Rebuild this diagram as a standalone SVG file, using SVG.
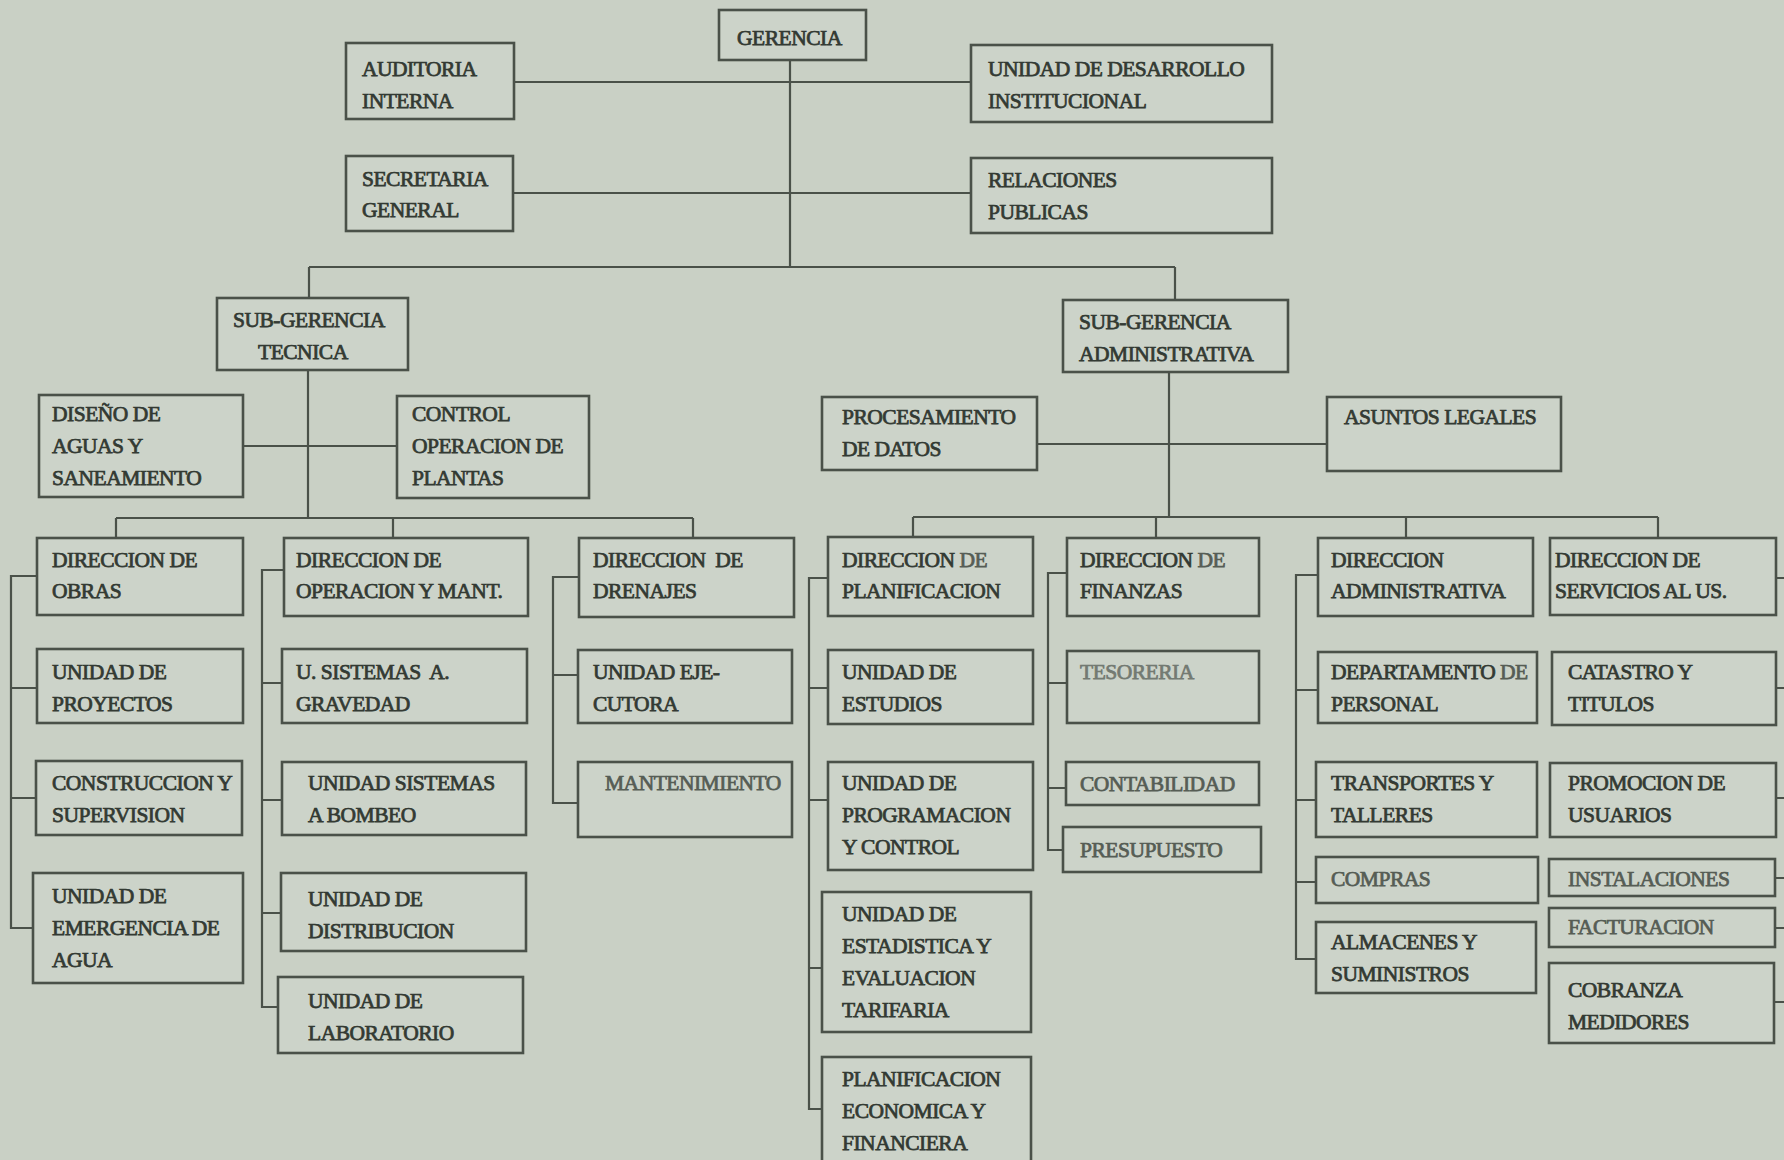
<svg xmlns="http://www.w3.org/2000/svg" width="1784" height="1160" viewBox="0 0 1784 1160">
  <style>
    .bg { fill: #c9d0c5; }
    .box { fill: #ccd3c9; stroke: #4a5149; stroke-width: 2.6; }
    .ln { fill: none; stroke: #4a5149; stroke-width: 2.2; }
    .t { font-family: "Liberation Serif", "Times New Roman", serif; font-size: 21.5px; fill: #333a33; stroke: #333a33; stroke-width: 0.75; letter-spacing: -0.5px; }
    .faint { fill: #737a72; stroke: #737a72; }
    .mid { fill: #565d55; stroke: #565d55; }
  </style>

  <rect class="bg" x="0" y="0" width="1784" height="1160"/>

  <!-- connecting lines -->
  <g id="connectors">
    <!-- management level -->
    <path class="ln" d="M790,60 V267"/>
    <path class="ln" d="M514,82 H971"/>
    <path class="ln" d="M513,193 H971"/>
    <path class="ln" d="M309,267 H1175 M309,267 V298 M1175,267 V300"/>

    <!-- technical branch -->
    <path class="ln" d="M308,370 V518"/>
    <path class="ln" d="M243,446 H397"/>
    <path class="ln" d="M116,518 H693 M116,518 V538 M393,518 V538 M693,518 V538"/>
    <path class="ln" d="M37,576 H11 V928 H33 M11,688 H37 M11,798 H36"/>
    <path class="ln" d="M284,570 H262 V1007 H278 M262,683 H282 M262,800 H282 M262,913 H281"/>
    <path class="ln" d="M579,577 H553 V803 H578 M553,675 H578"/>

    <!-- administrative branch -->
    <path class="ln" d="M1169,372 V517"/>
    <path class="ln" d="M1037,444 H1327"/>
    <path class="ln" d="M913,517 H1658 M913,517 V537 M1156,517 V538 M1406,517 V538 M1658,517 V538"/>
    <path class="ln" d="M828,578 H809 V1109 H822 M809,688 H828 M809,800 H828 M809,968 H822"/>
    <path class="ln" d="M1067,573 H1048 V850 H1063 M1048,683 H1067 M1048,788 H1066"/>
    <path class="ln" d="M1318,575 H1296 V959 H1316 M1296,690 H1318 M1296,800 H1316 M1296,882 H1316"/>
    <path class="ln" d="M1776,578 H1784 M1776,688 H1784 M1776,798 H1784 M1775,878 H1784 M1775,928 H1784 M1774,1002 H1784"/>
  </g>

  <!-- management -->
  <g id="gerencia">
    <rect class="box" x="719" y="10" width="147" height="50"/>
    <text class="t" x="737" y="45">GERENCIA</text>
  </g>
  <g id="auditoria-interna">
    <rect class="box" x="346" y="43" width="168" height="76"/>
    <text class="t" x="362" y="76">AUDITORIA<tspan x="362" y="108">INTERNA</tspan></text>
  </g>
  <g id="desarrollo-institucional">
    <rect class="box" x="971" y="45" width="301" height="77"/>
    <text class="t" x="988" y="76">UNIDAD DE DESARROLLO<tspan x="988" y="108">INSTITUCIONAL</tspan></text>
  </g>
  <g id="secretaria-general">
    <rect class="box" x="346" y="156" width="167" height="75"/>
    <text class="t" x="362" y="186">SECRETARIA<tspan x="362" y="217">GENERAL</tspan></text>
  </g>
  <g id="relaciones-publicas">
    <rect class="box" x="971" y="158" width="301" height="75"/>
    <text class="t" x="988" y="187">RELACIONES<tspan x="988" y="219">PUBLICAS</tspan></text>
  </g>

  <!-- technical sub-management -->
  <g id="sub-gerencia-tecnica">
    <rect class="box" x="217" y="298" width="191" height="72"/>
    <text class="t" x="233" y="327">SUB-GERENCIA<tspan x="258" y="359">TECNICA</tspan></text>
  </g>
  <g id="diseno-aguas">
    <rect class="box" x="39" y="395" width="204" height="102"/>
    <text class="t" x="52" y="421">DISEÑO DE<tspan x="52" y="453">AGUAS Y</tspan><tspan x="52" y="485">SANEAMIENTO</tspan></text>
  </g>
  <g id="control-plantas">
    <rect class="box" x="397" y="396" width="192" height="102"/>
    <text class="t" x="412" y="421">CONTROL<tspan x="412" y="453">OPERACION DE</tspan><tspan x="412" y="485">PLANTAS</tspan></text>
  </g>

  <g id="direccion-obras">
    <rect class="box" x="37" y="538" width="206" height="77"/>
    <text class="t" x="52" y="567">DIRECCION DE<tspan x="52" y="598">OBRAS</tspan></text>
  </g>
  <g id="unidad-proyectos">
    <rect class="box" x="37" y="649" width="206" height="74"/>
    <text class="t" x="52" y="679">UNIDAD DE<tspan x="52" y="711">PROYECTOS</tspan></text>
  </g>
  <g id="construccion-supervision">
    <rect class="box" x="36" y="761" width="206" height="74"/>
    <text class="t" x="52" y="790">CONSTRUCCION Y<tspan x="52" y="822">SUPERVISION</tspan></text>
  </g>
  <g id="emergencia-agua">
    <rect class="box" x="33" y="873" width="210" height="110"/>
    <text class="t" x="52" y="903">UNIDAD DE<tspan x="52" y="935">EMERGENCIA DE</tspan><tspan x="52" y="967">AGUA</tspan></text>
  </g>

  <g id="direccion-operacion">
    <rect class="box" x="284" y="538" width="244" height="78"/>
    <text class="t" x="296" y="567">DIRECCION DE<tspan x="296" y="598">OPERACION Y MANT.</tspan></text>
  </g>
  <g id="sistemas-gravedad">
    <rect class="box" x="282" y="649" width="245" height="74"/>
    <text class="t" x="296" y="679" xml:space="preserve">U. SISTEMAS  A.<tspan x="296" y="711">GRAVEDAD</tspan></text>
  </g>
  <g id="sistemas-bombeo">
    <rect class="box" x="282" y="762" width="244" height="73"/>
    <text class="t" x="308" y="790">UNIDAD SISTEMAS<tspan x="308" y="822">A BOMBEO</tspan></text>
  </g>
  <g id="unidad-distribucion">
    <rect class="box" x="281" y="873" width="245" height="78"/>
    <text class="t" x="308" y="906">UNIDAD DE<tspan x="308" y="938">DISTRIBUCION</tspan></text>
  </g>
  <g id="unidad-laboratorio">
    <rect class="box" x="278" y="977" width="245" height="76"/>
    <text class="t" x="308" y="1008">UNIDAD DE<tspan x="308" y="1040">LABORATORIO</tspan></text>
  </g>

  <g id="direccion-drenajes">
    <rect class="box" x="579" y="538" width="215" height="79"/>
    <text class="t" x="593" y="567" xml:space="preserve">DIRECCION  DE<tspan x="593" y="598">DRENAJES</tspan></text>
  </g>
  <g id="unidad-ejecutora">
    <rect class="box" x="578" y="650" width="214" height="73"/>
    <text class="t" x="593" y="679">UNIDAD EJE-<tspan x="593" y="711">CUTORA</tspan></text>
  </g>
  <g id="mantenimiento">
    <rect class="box" x="578" y="762" width="214" height="75"/>
    <text class="t mid" x="605" y="790">MANTENIMIENTO</text>
  </g>

  <!-- administrative sub-management -->
  <g id="sub-gerencia-administrativa">
    <rect class="box" x="1063" y="300" width="225" height="72"/>
    <text class="t" x="1079" y="329">SUB-GERENCIA<tspan x="1079" y="361">ADMINISTRATIVA</tspan></text>
  </g>
  <g id="procesamiento-datos">
    <rect class="box" x="822" y="397" width="215" height="73"/>
    <text class="t" x="842" y="424">PROCESAMIENTO<tspan x="842" y="456">DE DATOS</tspan></text>
  </g>
  <g id="asuntos-legales">
    <rect class="box" x="1327" y="397" width="234" height="74"/>
    <text class="t" x="1344" y="424">ASUNTOS LEGALES</text>
  </g>

  <g id="direccion-planificacion">
    <rect class="box" x="828" y="537" width="205" height="79"/>
    <text class="t" x="842" y="567">DIRECCION <tspan class="mid">DE</tspan><tspan x="842" y="598">PLANIFICACION</tspan></text>
  </g>
  <g id="unidad-estudios">
    <rect class="box" x="828" y="650" width="205" height="74"/>
    <text class="t" x="842" y="679">UNIDAD DE<tspan x="842" y="711">ESTUDIOS</tspan></text>
  </g>
  <g id="programacion-control">
    <rect class="box" x="828" y="762" width="205" height="108"/>
    <text class="t" x="842" y="790">UNIDAD DE<tspan x="842" y="822">PROGRAMACION</tspan><tspan x="842" y="854">Y CONTROL</tspan></text>
  </g>
  <g id="estadistica-tarifaria">
    <rect class="box" x="822" y="892" width="209" height="140"/>
    <text class="t" x="842" y="921">UNIDAD DE<tspan x="842" y="953">ESTADISTICA Y</tspan><tspan x="842" y="985">EVALUACION</tspan><tspan x="842" y="1017">TARIFARIA</tspan></text>
  </g>
  <g id="planificacion-economica">
    <rect class="box" x="822" y="1057" width="209" height="112"/>
    <text class="t" x="842" y="1086">PLANIFICACION<tspan x="842" y="1118">ECONOMICA Y</tspan><tspan x="842" y="1150">FINANCIERA</tspan></text>
  </g>

  <g id="direccion-finanzas">
    <rect class="box" x="1067" y="538" width="192" height="78"/>
    <text class="t" x="1080" y="567">DIRECCION <tspan class="mid">DE</tspan><tspan x="1080" y="598">FINANZAS</tspan></text>
  </g>
  <g id="tesoreria">
    <rect class="box" x="1067" y="651" width="192" height="72"/>
    <text class="t faint" x="1080" y="679">TESORERIA</text>
  </g>
  <g id="contabilidad">
    <rect class="box" x="1066" y="762" width="193" height="43"/>
    <text class="t mid" x="1080" y="791">CONTABILIDAD</text>
  </g>
  <g id="presupuesto">
    <rect class="box" x="1063" y="827" width="198" height="45"/>
    <text class="t mid" x="1080" y="857">PRESUPUESTO</text>
  </g>

  <g id="direccion-administrativa">
    <rect class="box" x="1318" y="538" width="215" height="78"/>
    <text class="t" x="1331" y="567">DIRECCION<tspan x="1331" y="598">ADMINISTRATIVA</tspan></text>
  </g>
  <g id="departamento-personal">
    <rect class="box" x="1318" y="652" width="219" height="71"/>
    <text class="t" x="1331" y="679">DEPARTAMENTO <tspan class="mid">DE</tspan><tspan x="1331" y="711">PERSONAL</tspan></text>
  </g>
  <g id="transportes-talleres">
    <rect class="box" x="1316" y="762" width="221" height="75"/>
    <text class="t" x="1331" y="790">TRANSPORTES Y<tspan x="1331" y="822">TALLERES</tspan></text>
  </g>
  <g id="compras">
    <rect class="box" x="1316" y="857" width="222" height="46"/>
    <text class="t mid" x="1331" y="886">COMPRAS</text>
  </g>
  <g id="almacenes-suministros">
    <rect class="box" x="1316" y="922" width="220" height="71"/>
    <text class="t" x="1331" y="949">ALMACENES Y<tspan x="1331" y="981">SUMINISTROS</tspan></text>
  </g>

  <g id="direccion-servicios">
    <rect class="box" x="1550" y="538" width="226" height="77"/>
    <text class="t" x="1555" y="567">DIRECCION DE<tspan x="1555" y="598">SERVICIOS AL US.</tspan></text>
  </g>
  <g id="catastro-titulos">
    <rect class="box" x="1552" y="652" width="224" height="73"/>
    <text class="t" x="1568" y="679">CATASTRO Y<tspan x="1568" y="711">TITULOS</tspan></text>
  </g>
  <g id="promocion-usuarios">
    <rect class="box" x="1550" y="763" width="226" height="74"/>
    <text class="t" x="1568" y="790">PROMOCION DE<tspan x="1568" y="822">USUARIOS</tspan></text>
  </g>
  <g id="instalaciones">
    <rect class="box" x="1549" y="859" width="226" height="37"/>
    <text class="t mid" x="1568" y="886">INSTALACIONES</text>
  </g>
  <g id="facturacion">
    <rect class="box" x="1549" y="908" width="226" height="39"/>
    <text class="t mid" x="1568" y="934">FACTURACION</text>
  </g>
  <g id="cobranza-medidores">
    <rect class="box" x="1549" y="963" width="225" height="80"/>
    <text class="t" x="1568" y="997">COBRANZA<tspan x="1568" y="1029">MEDIDORES</tspan></text>
  </g>
</svg>
